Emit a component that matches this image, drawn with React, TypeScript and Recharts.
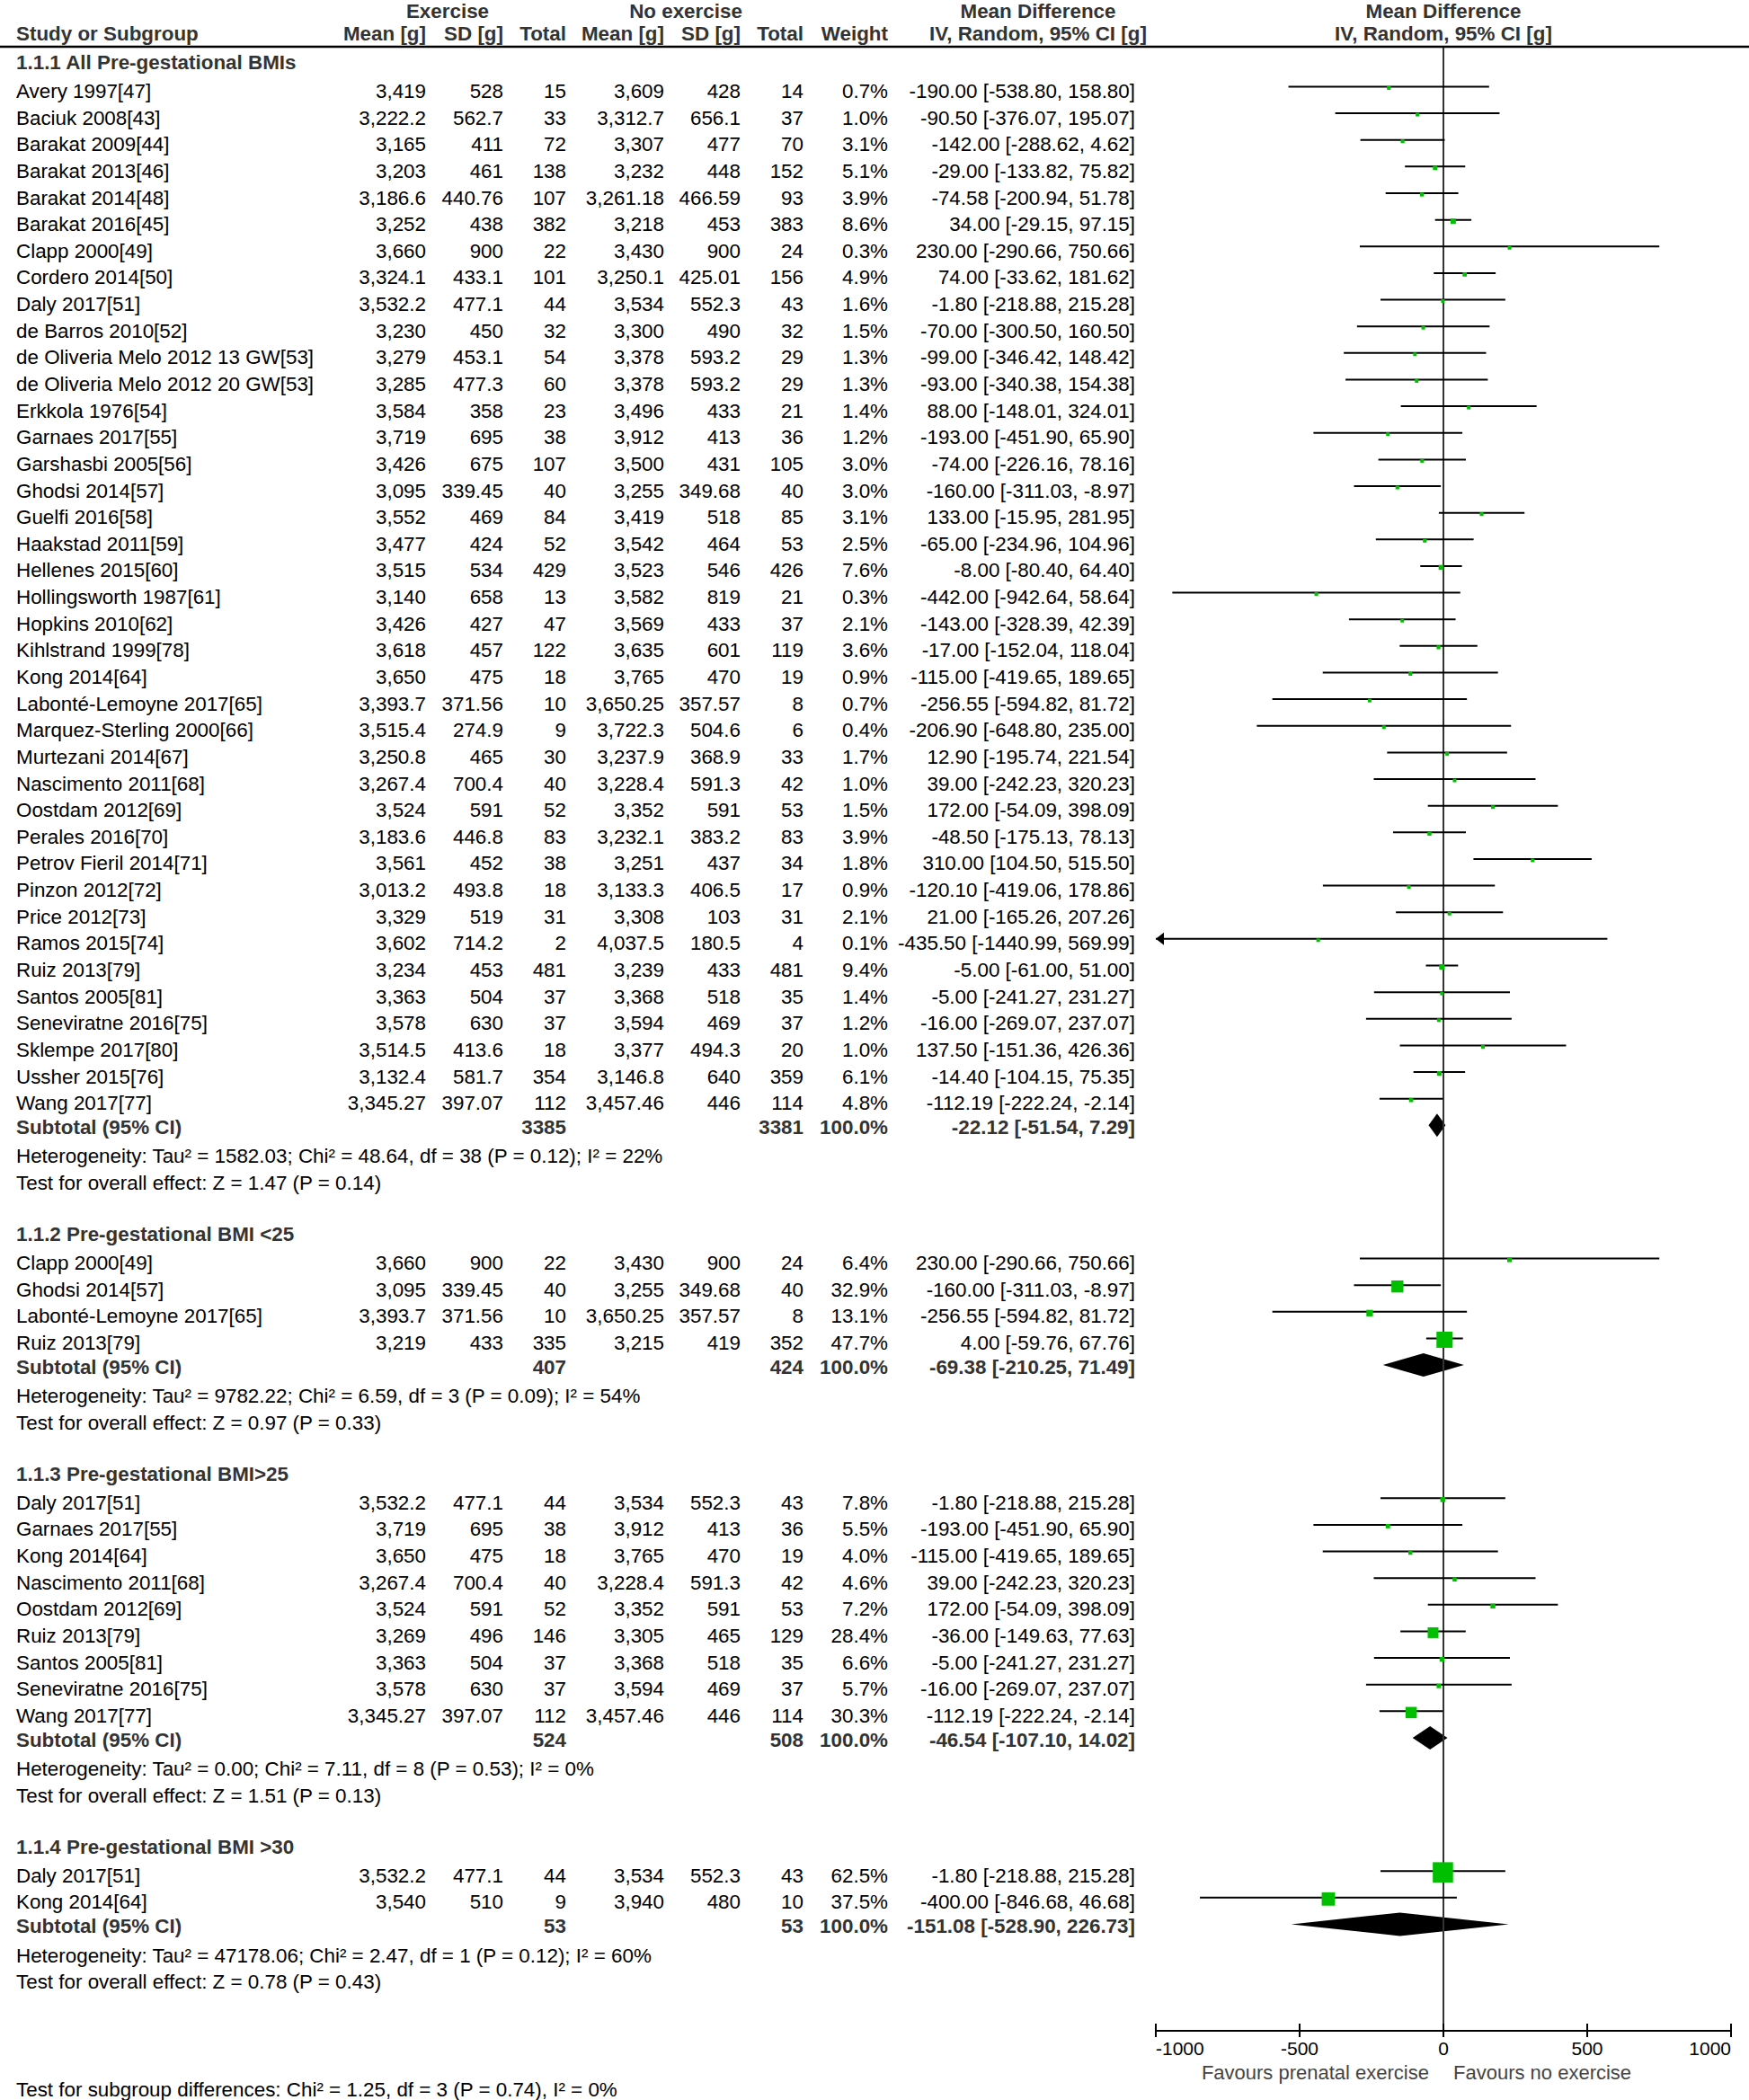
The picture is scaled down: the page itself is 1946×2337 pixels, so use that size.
import React from "react";
import { ComposedChart, XAxis, YAxis, Scatter, ReferenceLine, ReferenceArea } from "recharts";

// ── Data ────────────────────────────────────────────────────────────────────

const groupTitles = [
  "1.1.1 All Pre-gestational BMIs",
  "1.1.2 Pre-gestational BMI <25",
  "1.1.3 Pre-gestational BMI>25",
  "1.1.4 Pre-gestational BMI >30",
];
const groupSizes = [39, 4, 9, 2];

const studyNames = [
  "Avery 1997[47]", "Baciuk 2008[43]", "Barakat 2009[44]", "Barakat 2013[46]", "Barakat 2014[48]",
  "Barakat 2016[45]", "Clapp 2000[49]", "Cordero 2014[50]", "Daly 2017[51]", "de Barros 2010[52]",
  "de Oliveria Melo 2012 13 GW[53]", "de Oliveria Melo 2012 20 GW[53]", "Erkkola 1976[54]", "Garnaes 2017[55]",
  "Garshasbi 2005[56]", "Ghodsi 2014[57]", "Guelfi 2016[58]", "Haakstad 2011[59]", "Hellenes 2015[60]",
  "Hollingsworth 1987[61]", "Hopkins 2010[62]", "Kihlstrand 1999[78]", "Kong 2014[64]", "Labonté-Lemoyne 2017[65]",
  "Marquez-Sterling 2000[66]", "Murtezani 2014[67]", "Nascimento 2011[68]", "Oostdam 2012[69]", "Perales 2016[70]",
  "Petrov Fieril 2014[71]", "Pinzon 2012[72]", "Price 2012[73]", "Ramos 2015[74]", "Ruiz 2013[79]",
  "Santos 2005[81]", "Seneviratne 2016[75]", "Sklempe 2017[80]", "Ussher 2015[76]", "Wang 2017[77]",
  "Clapp 2000[49]", "Ghodsi 2014[57]", "Labonté-Lemoyne 2017[65]", "Ruiz 2013[79]",
  "Daly 2017[51]", "Garnaes 2017[55]", "Kong 2014[64]", "Nascimento 2011[68]", "Oostdam 2012[69]",
  "Ruiz 2013[79]", "Santos 2005[81]", "Seneviratne 2016[75]", "Wang 2017[77]",
  "Daly 2017[51]", "Kong 2014[64]",
];

const expMean = [
  3419, 3222.2, 3165, 3203, 3186.6, 3252, 3660, 3324.1, 3532.2, 3230, 3279, 3285, 3584, 3719, 3426, 3095,
  3552, 3477, 3515, 3140, 3426, 3618, 3650, 3393.7, 3515.4, 3250.8, 3267.4, 3524, 3183.6, 3561, 3013.2,
  3329, 3602, 3234, 3363, 3578, 3514.5, 3132.4, 3345.27,
  3660, 3095, 3393.7, 3219,
  3532.2, 3719, 3650, 3267.4, 3524, 3269, 3363, 3578, 3345.27,
  3532.2, 3540,
];
const expSD = [
  528, 562.7, 411, 461, 440.76, 438, 900, 433.1, 477.1, 450, 453.1, 477.3, 358, 695, 675, 339.45,
  469, 424, 534, 658, 427, 457, 475, 371.56, 274.9, 465, 700.4, 591, 446.8, 452, 493.8,
  519, 714.2, 453, 504, 630, 413.6, 581.7, 397.07,
  900, 339.45, 371.56, 433,
  477.1, 695, 475, 700.4, 591, 496, 504, 630, 397.07,
  477.1, 510,
];
const expTotal = [
  15, 33, 72, 138, 107, 382, 22, 101, 44, 32, 54, 60, 23, 38, 107, 40,
  84, 52, 429, 13, 47, 122, 18, 10, 9, 30, 40, 52, 83, 38, 18,
  31, 2, 481, 37, 37, 18, 354, 112,
  22, 40, 10, 335,
  44, 38, 18, 40, 52, 146, 37, 37, 112,
  44, 9,
];
const ctlMean = [
  3609, 3312.7, 3307, 3232, 3261.18, 3218, 3430, 3250.1, 3534, 3300, 3378, 3378, 3496, 3912, 3500, 3255,
  3419, 3542, 3523, 3582, 3569, 3635, 3765, 3650.25, 3722.3, 3237.9, 3228.4, 3352, 3232.1, 3251, 3133.3,
  3308, 4037.5, 3239, 3368, 3594, 3377, 3146.8, 3457.46,
  3430, 3255, 3650.25, 3215,
  3534, 3912, 3765, 3228.4, 3352, 3305, 3368, 3594, 3457.46,
  3534, 3940,
];
const ctlSD = [
  428, 656.1, 477, 448, 466.59, 453, 900, 425.01, 552.3, 490, 593.2, 593.2, 433, 413, 431, 349.68,
  518, 464, 546, 819, 433, 601, 470, 357.57, 504.6, 368.9, 591.3, 591, 383.2, 437, 406.5,
  103, 180.5, 433, 518, 469, 494.3, 640, 446,
  900, 349.68, 357.57, 419,
  552.3, 413, 470, 591.3, 591, 465, 518, 469, 446,
  552.3, 480,
];
const ctlTotal = [
  14, 37, 70, 152, 93, 383, 24, 156, 43, 32, 29, 29, 21, 36, 105, 40,
  85, 53, 426, 21, 37, 119, 19, 8, 6, 33, 42, 53, 83, 34, 17,
  31, 4, 481, 35, 37, 20, 359, 114,
  24, 40, 8, 352,
  43, 36, 19, 42, 53, 129, 35, 37, 114,
  43, 10,
];
const weightPct = [
  0.7, 1.0, 3.1, 5.1, 3.9, 8.6, 0.3, 4.9, 1.6, 1.5, 1.3, 1.3, 1.4, 1.2, 3.0, 3.0,
  3.1, 2.5, 7.6, 0.3, 2.1, 3.6, 0.9, 0.7, 0.4, 1.7, 1.0, 1.5, 3.9, 1.8, 0.9,
  2.1, 0.1, 9.4, 1.4, 1.2, 1.0, 6.1, 4.8,
  6.4, 32.9, 13.1, 47.7,
  7.8, 5.5, 4.0, 4.6, 7.2, 28.4, 6.6, 5.7, 30.3,
  62.5, 37.5,
];
const meanDiff = [
  -190, -90.5, -142, -29, -74.58, 34, 230, 74, -1.8, -70, -99, -93, 88, -193, -74, -160,
  133, -65, -8, -442, -143, -17, -115, -256.55, -206.9, 12.9, 39, 172, -48.5, 310, -120.1,
  21, -435.5, -5, -5, -16, 137.5, -14.4, -112.19,
  230, -160, -256.55, 4,
  -1.8, -193, -115, 39, 172, -36, -5, -16, -112.19,
  -1.8, -400,
];
const ciLow = [
  -538.8, -376.07, -288.62, -133.82, -200.94, -29.15, -290.66, -33.62, -218.88, -300.5, -346.42, -340.38, -148.01, -451.9, -226.16, -311.03,
  -15.95, -234.96, -80.4, -942.64, -328.39, -152.04, -419.65, -594.82, -648.8, -195.74, -242.23, -54.09, -175.13, 104.5, -419.06,
  -165.26, -1440.99, -61, -241.27, -269.07, -151.36, -104.15, -222.24,
  -290.66, -311.03, -594.82, -59.76,
  -218.88, -451.9, -419.65, -242.23, -54.09, -149.63, -241.27, -269.07, -222.24,
  -218.88, -846.68,
];
const ciHigh = [
  158.8, 195.07, 4.62, 75.82, 51.78, 97.15, 750.66, 181.62, 215.28, 160.5, 148.42, 154.38, 324.01, 65.9, 78.16, -8.97,
  281.95, 104.96, 64.4, 58.64, 42.39, 118.04, 189.65, 81.72, 235, 221.54, 320.23, 398.09, 78.13, 515.5, 178.86,
  207.26, 569.99, 51, 231.27, 237.07, 426.36, 75.35, -2.14,
  750.66, -8.97, 81.72, 67.76,
  215.28, 65.9, 189.65, 320.23, 398.09, 77.63, 231.27, 237.07, -2.14,
  215.28, 46.68,
];

const subExpTotal = [3385, 407, 524, 53];
const subCtlTotal = [3381, 424, 508, 53];
const subMeanDiff = [-22.12, -69.38, -46.54, -151.08];
const subLow = [-51.54, -210.25, -107.1, -528.9];
const subHigh = [7.29, 71.49, 14.02, 226.73];

const heterogeneity = [
  "Heterogeneity: Tau² = 1582.03; Chi² = 48.64, df = 38 (P = 0.12); I² = 22%",
  "Heterogeneity: Tau² = 9782.22; Chi² = 6.59, df = 3 (P = 0.09); I² = 54%",
  "Heterogeneity: Tau² = 0.00; Chi² = 7.11, df = 8 (P = 0.53); I² = 0%",
  "Heterogeneity: Tau² = 47178.06; Chi² = 2.47, df = 1 (P = 0.12); I² = 60%",
];
const overallEffect = [
  "Test for overall effect: Z = 1.47 (P = 0.14)",
  "Test for overall effect: Z = 0.97 (P = 0.33)",
  "Test for overall effect: Z = 1.51 (P = 0.13)",
  "Test for overall effect: Z = 0.78 (P = 0.43)",
];
const subgroupTest = "Test for subgroup differences: Chi² = 1.25, df = 3 (P = 0.74), I² = 0%";

const xTicks = [-1000, -500, 0, 500, 1000];
const X_MIN = -1000;
const X_MAX = 1000;

// ── Layout ──────────────────────────────────────────────────────────────────

const W = 1946;
const H = 2337;
const FONT = "'Liberation Sans', Arial, Helvetica, sans-serif";
const FS = 22.4;
const HEAD = "#333333";
const GREEN = "#00BF00";
const AXIS_H = 77;
const AXIS_Y = H - AXIS_H;
const Y_AXIS_W = 10;
const PLOT_LEFT = 1286;

// right edges of the numeric columns
const COLS = [474, 560, 630, 739, 824, 894, 988, 1263];

// ── Build rows ──────────────────────────────────────────────────────────────

type Row = { r: number; kind: string; g: number; i: number };

const rows: Row[] = [];
const studyPoints: { x: number; y: number; w: number; lo: number; hi: number }[] = [];
const subtotalRows: { g: number; r: number }[] = [];
{
  let r = -1;
  let s = 0;
  groupTitles.forEach((_, g) => {
    rows.push({ r: r++, kind: "title", g, i: -1 });
    for (let k = 0; k < groupSizes[g]; k++, s++) {
      rows.push({ r, kind: "study", g, i: s });
      studyPoints.push({ x: meanDiff[s], y: r, w: weightPct[s], lo: ciLow[s], hi: ciHigh[s] });
      r++;
    }
    subtotalRows.push({ g, r });
    rows.push({ r: r++, kind: "subtotal", g, i: -1 });
    rows.push({ r: r++, kind: "het", g, i: -1 });
    rows.push({ r: r++, kind: "test", g, i: -1 });
    r++;
  });
}
const rowMap = new Map(rows.map((row) => [row.r, row]));
const yTicks = rows.map((row) => row.r);
const arrowPoints = studyPoints.filter((p) => p.lo < X_MIN).map((p) => ({ x: X_MIN, y: p.y }));

const fmtMean = (v: number) => v.toLocaleString("en-US", { maximumFractionDigits: 2 });
const fmtCI = (m: number, lo: number, hi: number) => `${m.toFixed(2)} [${lo.toFixed(2)}, ${hi.toFixed(2)}]`;

// ── Renderers ───────────────────────────────────────────────────────────────

function RowTick(props: any) {
  const row = rowMap.get(props.payload?.value);
  if (!row) return null;
  // headings and subtotals sit a little higher than the study lines
  const base = props.y + (row.kind === "title" || row.kind === "subtotal" ? 10 : 12.5);
  const t = (x: number, s: string | number, anchor = "end", bold = false, fill = "#000") => (
    <text x={x} y={base} textAnchor={anchor} fontFamily={FONT} fontSize={FS} fontWeight={bold ? 700 : 400} fill={fill}>
      {s}
    </text>
  );
  if (row.kind === "title") return t(18, groupTitles[row.g], "start", true, HEAD);
  if (row.kind === "het") return t(18, heterogeneity[row.g], "start");
  if (row.kind === "test") return t(18, overallEffect[row.g], "start");
  if (row.kind === "subtotal") {
    const g = row.g;
    return (
      <g>
        {t(18, "Subtotal (95% CI)", "start", true, HEAD)}
        {t(COLS[2], subExpTotal[g], "end", true, HEAD)}
        {t(COLS[5], subCtlTotal[g], "end", true, HEAD)}
        {t(COLS[6], "100.0%", "end", true, HEAD)}
        {t(COLS[7], fmtCI(subMeanDiff[g], subLow[g], subHigh[g]), "end", true, HEAD)}
      </g>
    );
  }
  const i = row.i;
  return (
    <g>
      {t(18, studyNames[i], "start")}
      {t(COLS[0], fmtMean(expMean[i]))}
      {t(COLS[1], String(expSD[i]))}
      {t(COLS[2], expTotal[i])}
      {t(COLS[3], fmtMean(ctlMean[i]))}
      {t(COLS[4], String(ctlSD[i]))}
      {t(COLS[5], ctlTotal[i])}
      {t(COLS[6], `${weightPct[i].toFixed(1)}%`)}
      {t(COLS[7], fmtCI(meanDiff[i], ciLow[i], ciHigh[i]))}
    </g>
  );
}

function XTick(props: any) {
  const { x, payload } = props;
  const v = payload.value;
  const anchor = v === X_MIN ? "start" : v === X_MAX ? "end" : "middle";
  return (
    <g>
      <line x1={x} x2={x} y1={AXIS_Y - 8} y2={AXIS_Y + 7} stroke="#000" strokeWidth={2} />
      <text x={x} y={AXIS_Y + 27} textAnchor={anchor} fontFamily={FONT} fontSize={21} fill="#000">
        {v}
      </text>
    </g>
  );
}

function Square(props: any) {
  const { cx, cy, payload } = props;
  const s = Math.max(4, 3.2 + 0.31 * payload.w);
  return <rect x={cx - s / 2} y={cy - s / 2 + 1.5} width={s} height={s} fill={GREEN} />;
}

function Arrow(props: any) {
  const { cx, cy } = props;
  return <polygon points={`${cx},${cy} ${cx + 9},${cy - 7} ${cx + 9},${cy + 7}`} fill="#000" />;
}

function Diamond(props: any) {
  const { x, y, width, height } = props;
  const mx = x + width / 2;
  const my = y + height / 2;
  return <polygon points={`${x},${my} ${mx},${y} ${x + width},${my} ${mx},${y + height}`} fill="#000" />;
}

const headerText = (x: number, y: number, s: string, anchor: string) => (
  <text x={x} y={y} textAnchor={anchor} fontFamily={FONT} fontSize={FS} fontWeight={700} fill={HEAD}>
    {s}
  </text>
);

export default function App() {
  return (
    <div style={{ position: "absolute", left: 0, top: 0, width: W, height: H, background: "#fff" }}>
      <ComposedChart
        width={W}
        height={H}
        margin={{ top: 52, right: 20, bottom: 0, left: PLOT_LEFT - Y_AXIS_W }}
      >
        <XAxis
          type="number"
          dataKey="x"
          domain={[X_MIN, X_MAX]}
          ticks={xTicks}
          allowDataOverflow
          interval={0}
          height={AXIS_H}
          tickLine={false}
          axisLine={{ stroke: "#000", strokeWidth: 2 }}
          tick={(p: any) => <XTick {...p} />}
        />
        <YAxis
          type="number"
          dataKey="y"
          domain={[-1.5, 73]}
          reversed
          allowDataOverflow
          ticks={yTicks}
          interval={0}
          width={Y_AXIS_W}
          axisLine={false}
          tickLine={false}
          tick={(p: any) => <RowTick {...p} />}
        />
        <ReferenceLine x={0} stroke="#333" strokeWidth={2} ifOverflow="visible" />
        {studyPoints.map((p, k) => (
          <ReferenceLine
            key={`ci-${k}`}
            segment={[
              { x: Math.max(p.lo, X_MIN), y: p.y },
              { x: Math.min(p.hi, X_MAX), y: p.y },
            ]}
            stroke="#000"
            strokeWidth={2}
            ifOverflow="visible"
          />
        ))}
        {subtotalRows.map(({ g, r }) => (
          <ReferenceArea
            key={`sub-${g}`}
            x1={subLow[g]}
            x2={subHigh[g]}
            y1={r - 0.44}
            y2={r + 0.44}
            ifOverflow="visible"
            shape={(p: any) => <Diamond {...p} />}
          />
        ))}
        <Scatter data={studyPoints} dataKey="y" shape={(p: any) => <Square {...p} />} isAnimationActive={false} />
        <Scatter data={arrowPoints} dataKey="y" shape={(p: any) => <Arrow {...p} />} isAnimationActive={false} />
      </ComposedChart>
      <svg width={W} height={H} style={{ position: "absolute", left: 0, top: 0, pointerEvents: "none" }}>
        {headerText(498, 20, "Exercise", "middle")}
        {headerText(763, 20, "No exercise", "middle")}
        {headerText(1155, 20, "Mean Difference", "middle")}
        {headerText(1606, 20, "Mean Difference", "middle")}
        {headerText(18, 45, "Study or Subgroup", "start")}
        {headerText(COLS[0], 45, "Mean [g]", "end")}
        {headerText(COLS[1], 45, "SD [g]", "end")}
        {headerText(COLS[2], 45, "Total", "end")}
        {headerText(COLS[3], 45, "Mean [g]", "end")}
        {headerText(COLS[4], 45, "SD [g]", "end")}
        {headerText(COLS[5], 45, "Total", "end")}
        {headerText(COLS[6], 45, "Weight", "end")}
        {headerText(1155, 45, "IV, Random, 95% CI [g]", "middle")}
        {headerText(1606, 45, "IV, Random, 95% CI [g]", "middle")}
        <line x1={0} x2={W} y1={52} y2={52} stroke="#000" strokeWidth={2.5} />
        <text x={1590} y={AXIS_Y + 54} textAnchor="end" fontFamily={FONT} fontSize={22} fill="#444">
          Favours prenatal exercise
        </text>
        <text x={1617} y={AXIS_Y + 54} textAnchor="start" fontFamily={FONT} fontSize={22} fill="#444">
          Favours no exercise
        </text>
        <text x={18} y={2333} fontFamily={FONT} fontSize={FS} fill="#000">
          {subgroupTest}
        </text>
      </svg>
    </div>
  );
}
